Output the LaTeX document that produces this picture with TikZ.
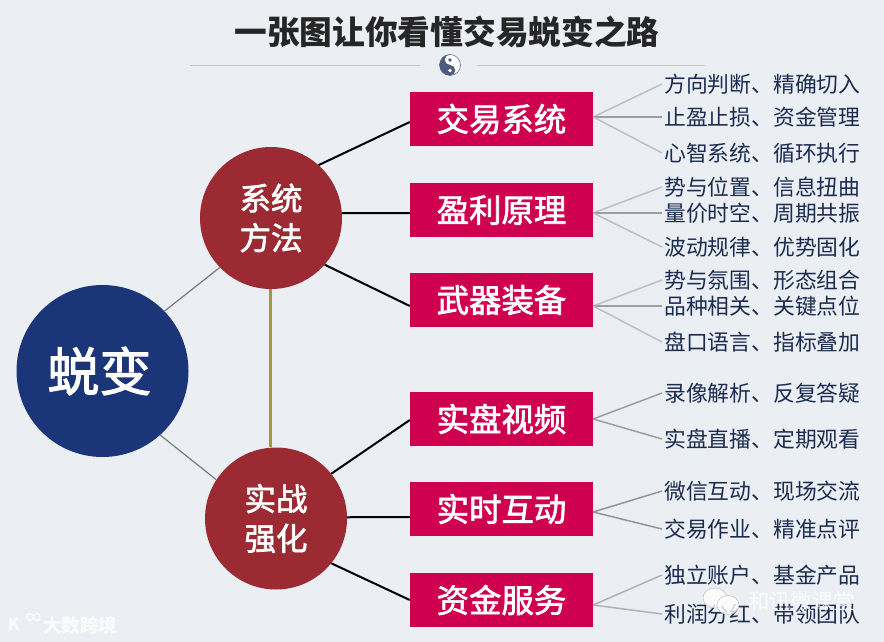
\documentclass[tikz,border=0pt]{standalone}
\usepackage{fontspec}
\setmainfont{Noto Sans CJK SC}
\newfontfamily\medfont[FakeBold=2]{Noto Sans CJK SC}
\definecolor{bgcol}{HTML}{EBEFF4}
\definecolor{navycol}{HTML}{1A3678}
\definecolor{wine}{HTML}{9B2A33}
\definecolor{rose}{HTML}{D00050}
\definecolor{leafink}{HTML}{1C2C50}
\definecolor{taiji}{HTML}{4F5A80}
\definecolor{goldline}{HTML}{A09A30}
\tikzset{
  topic/.style={circle,fill=wine,text=white,minimum size=142pt,inner sep=0pt,align=center,font=\fontsize{31.5}{39.5}\medfont},
  branch/.style={rectangle,fill=rose,text=white,minimum width=183pt,minimum height=54pt,inner sep=0pt,font=\fontsize{32.4}{32}\medfont},
  leaf/.style={anchor=west,inner sep=2pt,text=leafink,font=\fontsize{21.8}{22}\selectfont},
  spoke/.style={black!52,line width=1.2pt},
  stamp/.style={text=white,opacity=0.8,inner sep=0pt}
}
\begin{document}
\begin{tikzpicture}[x=1pt,y=-1pt]
  \fill[bgcol] (0,0) rectangle (884,642);
  \useasboundingbox (0,0) rectangle (884,642);
  % titulo
  \node[inner sep=0pt,text=black!85,font=\fontsize{32.7}{33}\selectfont\bfseries] (title) at (447,32) {一张图让你看懂交易蜕变之路};
  \draw[black!22,line width=1pt] (190,65.5)--(420,65.5) (477,65.5)--(705,65.5);
  % taiji
  \begin{scope}[shift={(450,65)},y=1pt]
    \fill[white] (0,0) circle(11);
    \draw[taiji,line width=0.5pt] (0,0) circle(10.5);
    \fill[taiji] (0,10.5) arc(90:270:10.5) arc(-90:90:5.25) arc(270:90:5.25)--cycle;
    \fill[taiji] (0,5) circle(1.8);
    \fill[white] (0,-5.5) circle(1.8);
  \end{scope}
  % nucleo
  \node[circle,fill=navycol,text=white,minimum size=172pt,inner sep=0pt,font=\fontsize{52}{52}\medfont] (core) at (102.5,371) {\raisebox{3pt}{蜕变\hspace{6pt}}};
  \node[topic] (sys) at (271,218) {系统\\方法};
  \node[topic] (real) at (276,518.5) {实战\\强化};
  \draw[spoke] (core.44)--(sys.224);
  \draw[spoke] (core.-48)--(real.147);
  \draw[goldline,line width=2.6pt] (sys.south -| 270.7,0)--(real.north -| 270.7,0);
  % ramas
  \foreach \n/\y/\t/\p/\a/\i/\h in {
    trade/119/交易系统/sys/48/122/117,profit/210/盈利原理/sys/4/213/213,gear/300/武器装备/sys/-41/306/306,
    video/419/实盘视频/real/39/420/419,talk/509/实时互动/real/1/517/512,fund/600/资金服务/real/-39/600/605}{
    \node[branch] (\n) at (501.5,\y) {\raisebox{1.5pt}{\t}};
    \coordinate (\n-in) at (\n.west |- 0,\i);
    \coordinate (\n-hub) at (\n.east |- 0,\h);
    \draw[black,line width=2pt] (\p.\a)--(\n-in);
  }
  % hojas
  \foreach \n/\y/\t/\b/\c in {
    a/84/方向判断、精确切入/trade/black!25,b/117/止盈止损、资金管理/trade/black!38,c/153/心智系统、循环执行/trade/black!25,
    d/187/势与位置、信息扭曲/profit/black!25,e/213/量价时空、周期共振/profit/black!38,f/247/波动规律、优势固化/profit/black!25,
    g/280/势与氛围、形态组合/gear/black!25,h/306/品种相关、关键点位/gear/black!38,i/342/盘口语言、指标叠加/gear/black!25,
    j/393/录像解析、反复答疑/video/black!38,k/439/实盘直播、定期观看/video/black!38,
    l/491/微信互动、现场交流/talk/black!42,m/529/交易作业、精准点评/talk/black!42,
    n/575/独立账户、基金产品/fund/black!30,o/614/利润分红、带领团队/fund/black!30}{
    \node[leaf] (\n) at (662,\y) {\t};
    \draw[\c,line width=1.5pt] (\b-hub)--(\n.west);
  }
  % sellos
  \draw[black!25,fill=white,line width=0.5pt,fill opacity=0.8] (715,598) ellipse(12 and 10);
  \draw[black!25,fill=white,line width=0.5pt,fill opacity=0.8] (728,605) ellipse(11 and 9.5);
  \node[stamp,font=\fontsize{21.4}{22}\selectfont] (wechat) at (801.5,602) {和讯微课堂};
  \node[stamp,font=\fontsize{18.5}{19}\selectfont\bfseries] (site) at (80,625) {大数跨境};
  \node[stamp,font=\fontsize{17}{17}\selectfont\bfseries] (kmark) at (14,624) {K};
  \draw[white,line width=1.2pt,opacity=0.8] (30,617) circle(3.5) (37,617) circle(3.5);
\end{tikzpicture}
\end{document}
